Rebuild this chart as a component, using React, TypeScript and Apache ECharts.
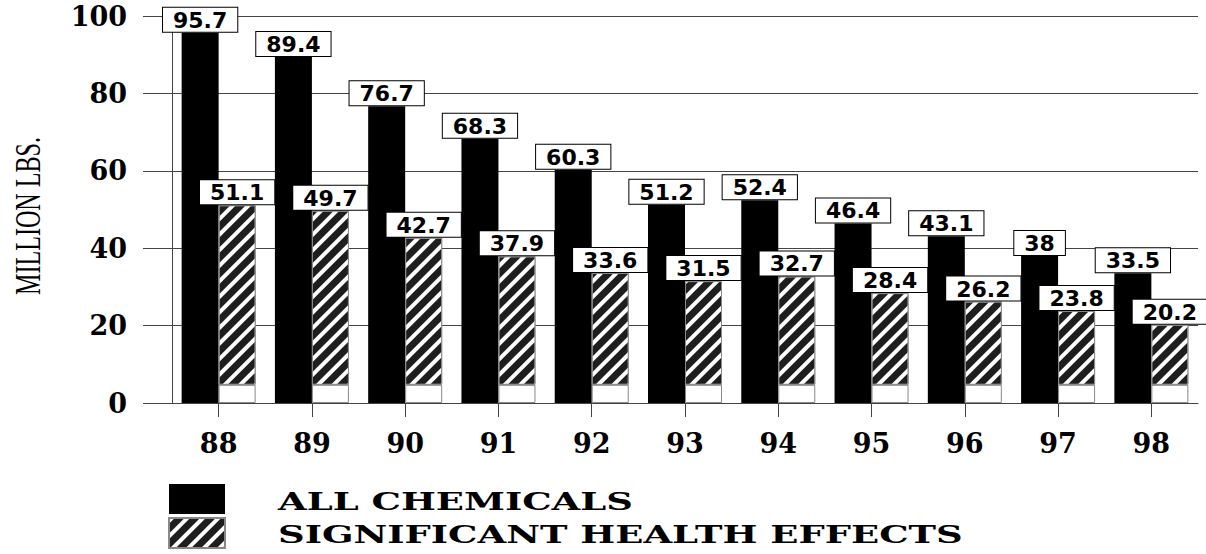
import React, { useEffect, useRef } from "react";
import * as echarts from "echarts";

const years = ["88", "89", "90", "91", "92", "93", "94", "95", "96", "97", "98"];
const allChemicals = [95.7, 89.4, 76.7, 68.3, 60.3, 51.2, 52.4, 46.4, 43.1, 38, 33.5];
const healthEffects = [51.1, 49.7, 42.7, 37.9, 33.6, 31.5, 32.7, 28.4, 26.2, 23.8, 20.2];
const yTicks = [0, 20, 40, 60, 80, 100];
const hatchBase = 4.7;

const NAME_ALL = "ALL CHEMICALS";
const NAME_SIG = "SIGNIFICANT HEALTH EFFECTS";
const legendNames = [NAME_ALL, NAME_SIG];

export default function App() {
  const ref = useRef<HTMLDivElement>(null);

  useEffect(() => {
    if (!ref.current) return;
    const chart = echarts.init(ref.current, null, { renderer: "svg" });

    const labelBox = {
      show: true,
      position: "top" as const,
      distance: 1,
      fontFamily: "DejaVu Sans",
      fontWeight: "bold" as const,
      fontSize: 22,
      color: "#000",
      backgroundColor: "#fff",
      borderColor: "#000",
      borderWidth: 1,
      padding: [3, 10, 2, 10],
      lineHeight: 19,
    };

    const axisFont = {
      fontFamily: "DejaVu Serif",
      fontWeight: "bold" as const,
      fontSize: 27,
      color: "#000",
    };

    const legendTextY = [502, 535];

    chart.setOption({
      animation: false,
      backgroundColor: "#fff",
      grid: { left: 172, right: 8, top: 16, bottom: 151, containLabel: false },
      legend: {
        orient: "vertical",
        left: 168,
        top: 484,
        padding: 0,
        itemWidth: 56,
        itemHeight: 30,
        itemGap: 3,
        icon: "rect",
        data: legendNames,
        selectedMode: false,
        formatter: () => "",
        textStyle: { fontSize: 10 },
      },
      graphic: [
        {
          type: "text",
          x: 28,
          y: 216,
          rotation: Math.PI / 2,
          scaleX: 0.67,
          style: {
            text: "MILLION LBS.",
            font: '36px "Liberation Serif"',
            fill: "#000",
            align: "center",
            verticalAlign: "middle",
          },
        },
        ...legendNames.map((name, i) => ({
          type: "text",
          x: 278,
          y: legendTextY[i],
          scaleX: 1.54,
          style: {
            text: name,
            font: 'bold 24px "DejaVu Serif"',
            fill: "#000",
            align: "left",
            verticalAlign: "middle",
          },
        })),
      ],
      xAxis: {
        type: "category",
        data: years,
        axisLine: { show: true, lineStyle: { color: "#444", width: 1 } },
        axisTick: { show: true, alignWithLabel: true, length: 14, lineStyle: { color: "#444" } },
        axisLabel: { ...axisFont, margin: 27 },
        splitLine: { show: false },
      },
      yAxis: {
        type: "value",
        min: yTicks[0],
        max: yTicks[yTicks.length - 1],
        interval: 20,
        axisLine: { show: true, lineStyle: { color: "#444", width: 1 } },
        axisTick: { show: true, length: 29, lineStyle: { color: "#444" } },
        axisLabel: { ...axisFont, margin: 45 },
        splitLine: { show: true, lineStyle: { color: "#444", width: 1 } },
      },
      series: [
        {
          name: NAME_ALL,
          type: "bar",
          data: allChemicals,
          barWidth: 37,
          barGap: "0%",
          itemStyle: { color: "#000" },
          label: { ...labelBox },
          z: 2,
        },
        {
          name: "base",
          type: "bar",
          stack: "sig",
          data: healthEffects.map(() => hatchBase),
          barWidth: 37,
          barGap: "0%",
          itemStyle: { color: "#fff", borderColor: "#888", borderWidth: 1 },
          label: { show: false },
          z: 2,
        },
        {
          name: NAME_SIG,
          type: "bar",
          stack: "sig",
          data: healthEffects.map((v) => +(v - hatchBase).toFixed(2)),
          barWidth: 37,
          barGap: "0%",
          itemStyle: {
            color: "#1e1e1e",
            borderColor: "#888",
            borderWidth: 1,
            decal: {
              symbol: "rect",
              symbolSize: 1,
              color: "#fff",
              dashArrayX: [1, 0],
              dashArrayY: [4, 7],
              rotation: -Math.PI / 4,
            },
          },
          label: {
            ...labelBox,
            formatter: (p: any) => String(healthEffects[p.dataIndex]),
          },
          z: 2,
        },
      ],
    });

    return () => chart.dispose();
  }, []);

  return (
    <div
      ref={ref}
      style={{ position: "fixed", left: 0, top: 0, width: 1206, height: 554 }}
    />
  );
}
